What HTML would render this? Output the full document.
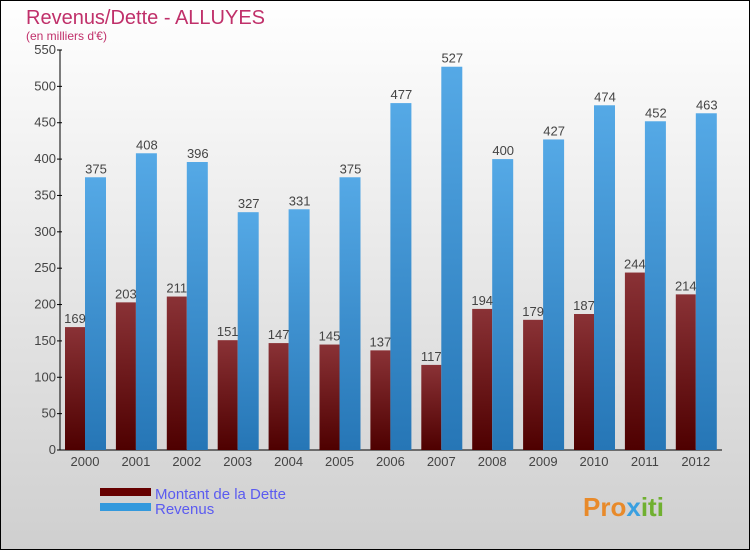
<!DOCTYPE html>
<html><head><meta charset="utf-8"><style>
body{margin:0}
svg{display:block;font-family:"Liberation Sans",sans-serif}
</style></head><body>
<svg width="750" height="550" xmlns="http://www.w3.org/2000/svg">
<defs>
<linearGradient id="bg" x1="0" y1="0" x2="0" y2="1"><stop offset="0" stop-color="#ffffff"/><stop offset="1" stop-color="#cfcfcf"/></linearGradient>
<linearGradient id="gd" x1="0" y1="0" x2="0" y2="1"><stop offset="0" stop-color="#8a3236"/><stop offset="1" stop-color="#4e0000"/></linearGradient>
<linearGradient id="gr" x1="0" y1="0" x2="0" y2="1"><stop offset="0" stop-color="#55a9e6"/><stop offset="1" stop-color="#2676b6"/></linearGradient>
</defs>
<rect x="0.5" y="0.5" width="749" height="549" fill="url(#bg)" stroke="#000"/>
<text x="26" y="24" font-size="20" fill="#c0306a">Revenus/Dette - ALLUYES</text>
<text x="26" y="40" font-size="12" fill="#c0306a">(en milliers d'€)</text>
<g id="axes"></g>
<g id="bars"></g>
<rect x="100" y="488" width="51" height="8" fill="#660000"/>
<text x="155" y="499" font-size="15" fill="#5b5bf0">Montant de la Dette</text>
<rect x="100" y="503" width="51" height="8" fill="#3399dd"/>
<text x="155" y="514" font-size="15" fill="#5b5bf0">Revenus</text>
<text x="583" y="516" font-size="26" font-weight="bold" fill="#e88a2a">Pro<tspan fill="#3aa0e0">x</tspan><tspan fill="#70b030">iti</tspan></text>
</svg>
<script>
const years=["2000","2001","2002","2003","2004","2005","2006","2007","2008","2009","2010","2011","2012"];
const dette=[169,203,211,151,147,145,137,117,194,179,187,244,214];
const revenus=[375,408,396,327,331,375,477,527,400,427,474,452,463];
const ticks=[0,50,100,150,200,250,300,350,400,450,500,550];
const NS="http://www.w3.org/2000/svg";
const y0=450,ymax=550,ph=400;
function yS(v){return y0-v/ymax*ph;}
function xG(i){return 65+i*50.9;}
function mk(t,a,p){const e=document.createElementNS(NS,t);for(const k in a)e.setAttribute(k,a[k]);p.appendChild(e);return e;}
const ax=document.getElementById('axes'),bg=document.getElementById('bars');
const yl=mk('line',{x1:60,y1:50,x2:60,y2:450,stroke:'#000'},ax);


const xl=mk('line',{x1:60,y1:450,x2:722,y2:450,stroke:'#000'},ax);


ticks.forEach(t=>{
 const y=yS(t);
 const l=mk('line',{x1:57,y1:y,x2:62,y2:y,stroke:'#000'},ax);
 
 
 const tx=mk('text',{x:56,y:y+4,'font-size':13,'text-anchor':'end',fill:'#444'},ax);
 tx.textContent=t;
 
 
});
years.forEach((yr,i)=>{
 const x=xG(i);
 const d=mk('rect',{x:x,y:yS(dette[i]),width:20,height:y0-yS(dette[i]),fill:'url(#gd)'},bg);
 
 
 const r=mk('rect',{x:x+20,y:yS(revenus[i]),width:21,height:y0-yS(revenus[i]),fill:'url(#gr)'},bg);
 
 
 const t1=mk('text',{x:x+10,y:yS(dette[i])-4,'font-size':13,'text-anchor':'middle',fill:'#444'},bg);
 t1.textContent=dette[i];
 
 
 const t2=mk('text',{x:x+31,y:yS(revenus[i])-4,'font-size':13,'text-anchor':'middle',fill:'#444'},bg);
 t2.textContent=revenus[i];
 
 
 const xt=mk('text',{x:x+20,y:466,'font-size':13,'text-anchor':'middle',fill:'#444'},ax);
 xt.textContent=yr;
 
 
});
</script>
</body></html>
